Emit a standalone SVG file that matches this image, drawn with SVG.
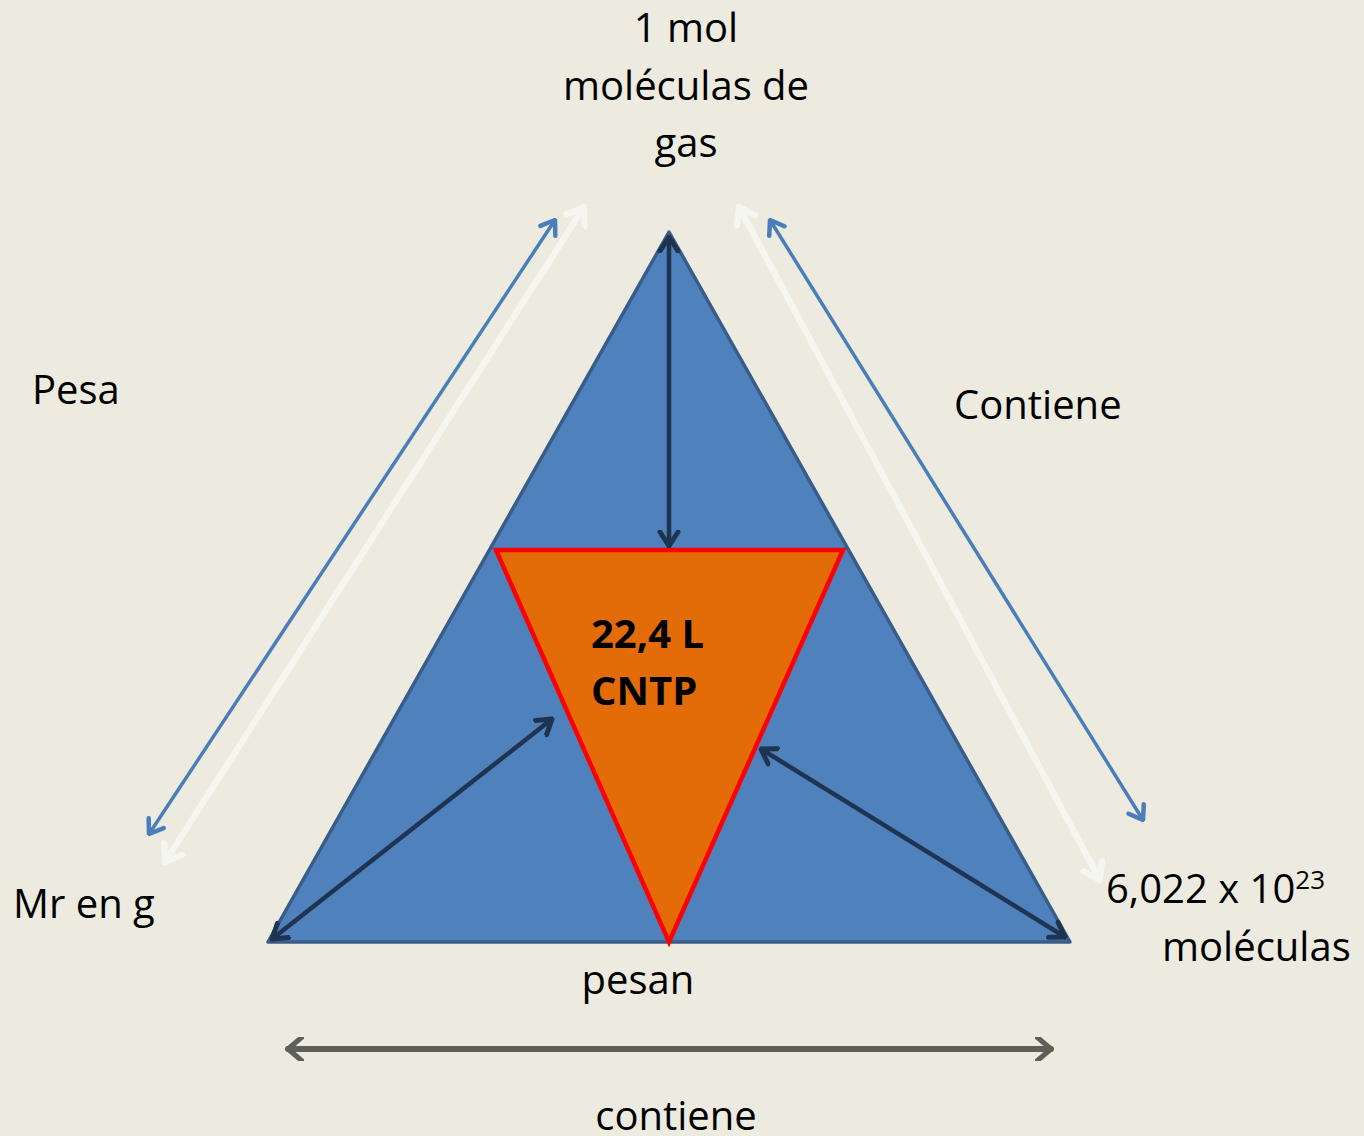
<svg xmlns="http://www.w3.org/2000/svg" width="1364" height="1136" viewBox="0 0 1364 1136">
  <style>
    .lbl { font-family: "Open Sans", "Liberation Sans", sans-serif; font-size: 40px; fill: #000; }
    .bold { font-weight: bold; }
    .dark { stroke: #1F3450; stroke-width: 4.5; fill: none; stroke-linecap: round; }
    .blue { stroke: #4A7EBB; stroke-width: 3.5; fill: none; stroke-linecap: round; }
    .pale { stroke: #F6F6F1; stroke-width: 6; fill: none; stroke-linecap: round; }
    .grey { stroke: #5E5F58; stroke-width: 6; fill: none; stroke-linecap: round; }
  </style>
  <defs>
    <marker id="mDark" viewBox="-16 -12 18 24" refX="0" refY="0" markerWidth="18" markerHeight="24" markerUnits="userSpaceOnUse" orient="auto-start-reverse">
      <path d="M-14,-9 L0,0 L-14,9" fill="none" stroke="#1F3450" stroke-width="5" stroke-linecap="round" stroke-linejoin="round"/>
    </marker>
    <marker id="mBlue" viewBox="-16 -12 18 24" refX="0" refY="0" markerWidth="18" markerHeight="24" markerUnits="userSpaceOnUse" orient="auto-start-reverse">
      <path d="M-13,-9 L0,0 L-13,9" fill="none" stroke="#4A7EBB" stroke-width="4.5" stroke-linecap="round" stroke-linejoin="round"/>
    </marker>
    <marker id="mPale" viewBox="-18 -14 20 28" refX="0" refY="0" markerWidth="20" markerHeight="28" markerUnits="userSpaceOnUse" orient="auto">
      <path d="M-16,-11 L0,0 L-16,11" fill="none" stroke="#F6F6F1" stroke-width="6" stroke-linecap="round" stroke-linejoin="round"/>
    </marker>
    <marker id="mGrey" viewBox="-16 -12 18 24" refX="0" refY="0" markerWidth="18" markerHeight="24" markerUnits="userSpaceOnUse" orient="auto-start-reverse">
      <path d="M-14,-12 L0,0 L-14,12" fill="none" stroke="#5E5F58" stroke-width="5" stroke-linecap="round" stroke-linejoin="round"/>
    </marker>
  </defs>

  <rect width="1364" height="1136" fill="#EDEBE0"/>

  <!-- outer triangle -->
  <g id="outer-triangle">
    <polygon points="669,232 268,942 1070,942" fill="#4F81BD" stroke="#385D8A" stroke-width="3.5" stroke-linejoin="round"/>
  </g>

  <!-- inner inverted triangle -->
  <g id="inner-triangle">
    <polygon points="496,550 843,550 669,942" fill="#E36C09" stroke="#FF0000" stroke-width="4.5" stroke-linejoin="miter"/>
    <text class="lbl bold" x="591" y="648">22,4 L</text>
    <text class="lbl bold" x="591" y="705">CNTP</text>
  </g>

  <g id="connectors">
    <!-- inner double arrows -->
    <line class="dark" x1="669" y1="237" x2="669" y2="546" marker-start="url(#mDark)" marker-end="url(#mDark)"/>
    <line class="dark" x1="272" y1="939" x2="552" y2="719" marker-start="url(#mDark)" marker-end="url(#mDark)"/>
    <line class="dark" x1="761" y1="749" x2="1065" y2="937" marker-start="url(#mDark)" marker-end="url(#mDark)"/>
    <!-- outer blue double arrows -->
    <line class="blue" x1="555" y1="220" x2="149" y2="834" marker-start="url(#mBlue)" marker-end="url(#mBlue)"/>
    <line class="blue" x1="770" y1="220" x2="1143" y2="820" marker-start="url(#mBlue)" marker-end="url(#mBlue)"/>
    <!-- pale arrows, one head at each end -->
    <line class="pale" x1="584" y1="207" x2="165" y2="862" marker-end="url(#mPale)"/>
    <line class="pale" x1="165" y1="862" x2="584" y2="207" marker-end="url(#mPale)"/>
    <line class="pale" x1="739" y1="207" x2="1100" y2="880" marker-end="url(#mPale)"/>
    <line class="pale" x1="1100" y1="880" x2="739" y2="207" marker-end="url(#mPale)"/>
    <!-- bottom double arrow -->
    <line class="grey" x1="288" y1="1049" x2="1051" y2="1049" marker-start="url(#mGrey)" marker-end="url(#mGrey)"/>
  </g>

  <g id="label-top">
    <text class="lbl" x="686" y="42" text-anchor="middle">1 mol</text>
    <text class="lbl" x="686" y="100" text-anchor="middle">moléculas de</text>
    <text class="lbl" x="686" y="157" text-anchor="middle">gas</text>
  </g>
  <g id="label-pesa"><text class="lbl" x="32" y="404">Pesa</text></g>
  <g id="label-contiene"><text class="lbl" x="954" y="419">Contiene</text></g>
  <g id="label-mr"><text class="lbl" x="13" y="918">Mr en g</text></g>
  <g id="label-avogadro">
    <text class="lbl" x="1106" y="903">6,022 x 10<tspan font-size="26" dy="-14">23</tspan></text>
    <text class="lbl" x="1162" y="961">moléculas</text>
  </g>
  <g id="label-pesan"><text class="lbl" x="638" y="994" text-anchor="middle">pesan</text></g>
  <g id="label-contiene-bottom"><text class="lbl" x="676" y="1130" text-anchor="middle">contiene</text></g>
</svg>
